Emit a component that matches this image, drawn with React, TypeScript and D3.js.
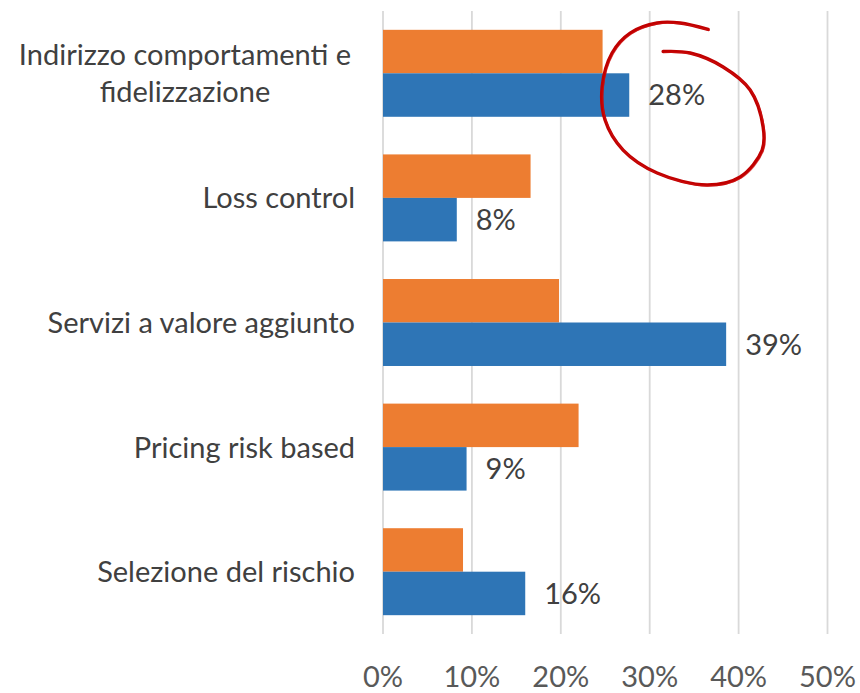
import React from "react";
import * as d3 from "d3";

const categories = [
  "Indirizzo comportamenti e fidelizzazione",
  "Loss control",
  "Servizi a valore aggiunto",
  "Pricing risk based",
  "Selezione del rischio",
];
const categoryLines = [
  ["Indirizzo comportamenti e", "fidelizzazione"],
  ["Loss control"],
  ["Servizi a valore aggiunto"],
  ["Pricing risk based"],
  ["Selezione del rischio"],
];
const seriesOrange = [0.247, 0.166, 0.198, 0.22, 0.09];
const seriesBlue = [0.277, 0.083, 0.386, 0.094, 0.16];
const tickValues = [0, 0.1, 0.2, 0.3, 0.4, 0.5];

// annotation stroke path: [value on x axis, position in category units from first category center]
const annotationPath: [number, number][] = [
  [0.3657, -0.352],
  [0.3342, -0.404],
  [0.3084, -0.404],
  [0.278, -0.323],
  [0.2577, -0.163],
  [0.2465, 0.11],
  [0.2498, 0.375],
  [0.2701, 0.616],
  [0.3084, 0.8],
  [0.3646, 0.896],
  [0.4018, 0.832],
  [0.4265, 0.616],
  [0.4276, 0.431],
  [0.413, 0.134],
  [0.3826, -0.051],
  [0.3455, -0.163],
  [0.3151, -0.175],
];

const W = 860;
const H = 693;
const FONT = "Lato, 'Open Sans', sans-serif";
const FS = 29;

export default function App() {
  const x = d3.scaleLinear().domain([0, 0.5]).range([383, 827.5]);
  const y = d3
    .scaleBand<string>()
    .domain(categories)
    .range([11, 634])
    .paddingInner(0.302)
    .paddingOuter(0.151);
  const sub = d3
    .scaleBand<string>()
    .domain(["orange", "blue"])
    .range([0, y.bandwidth()]);
  const fmt = d3.format(".0%");
  const c0 = (y(categories[0]) as number) + y.bandwidth() / 2;
  const step = y.step();
  const annLine = d3
    .line<[number, number]>()
    .x((d) => x(d[0]))
    .y((d) => c0 + d[1] * step)
    .curve(d3.curveCatmullRom.alpha(0.5));
  const annLine2 = d3
    .line<[number, number]>()
    .x((d) => x(d[0]) + 1.2)
    .y((d) => c0 + d[1] * step + 1)
    .curve(d3.curveCatmullRom.alpha(0.5));

  return (
    <svg
      width={W}
      height={H}
      style={{ position: "absolute", left: 0, top: 0, background: "#fff" }}
      fontFamily={FONT}
    >
      {tickValues.map((t) => (
        <line
          key={t}
          x1={x(t)}
          x2={x(t)}
          y1={11}
          y2={634}
          stroke="#d9d9d9"
          strokeWidth={1.8}
        />
      ))}
      {categories.map((c, i) => {
        const y0 = y(c) as number;
        return (
          <g key={c}>
            <rect
              x={x(0)}
              y={y0 + (sub("orange") as number)}
              width={x(seriesOrange[i]) - x(0)}
              height={sub.bandwidth()}
              fill="#ED7D31"
            />
            <rect
              x={x(0)}
              y={y0 + (sub("blue") as number)}
              width={x(seriesBlue[i]) - x(0)}
              height={sub.bandwidth()}
              fill="#2E75B6"
            />
            <text
              x={x(seriesBlue[i]) + 19}
              y={y0 + (sub("blue") as number) + sub.bandwidth() / 2}
              dy="0.36em"
              fontSize={FS}
              fill="#404040"
            >
              {fmt(seriesBlue[i])}
            </text>
          </g>
        );
      })}
      {categories.map((c, i) => {
        const lines = categoryLines[i];
        const cy = (y(c) as number) + y.bandwidth() / 2;
        const lh = 37;
        if (lines.length === 1) {
          return (
            <text
              key={c}
              x={355}
              y={cy}
              dy="0.36em"
              textAnchor="end"
              fontSize={FS}
              fill="#404040"
            >
              {lines[0]}
            </text>
          );
        }
        return (
          <text key={c} textAnchor="middle" fontSize={FS} fill="#404040">
            {lines.map((l, k) => (
              <tspan
                key={k}
                x={185}
                y={cy + (k - (lines.length - 1) / 2) * lh}
                dy="0.36em"
              >
                {l}
              </tspan>
            ))}
          </text>
        );
      })}
      {tickValues.map((t) => (
        <text
          key={t}
          x={x(t)}
          y={677}
          dy="0.36em"
          textAnchor="middle"
          fontSize={FS}
          fill="#595959"
        >
          {fmt(t)}
        </text>
      ))}
      <path
        d={annLine(annotationPath) || ""}
        fill="none"
        stroke="#C00000"
        strokeWidth={3.4}
        strokeLinecap="round"
        strokeLinejoin="round"
      />
      <path
        d={annLine2(annotationPath) || ""}
        fill="none"
        stroke="#D01010"
        strokeOpacity={0.6}
        strokeWidth={1.2}
        strokeLinecap="round"
      />
    </svg>
  );
}
